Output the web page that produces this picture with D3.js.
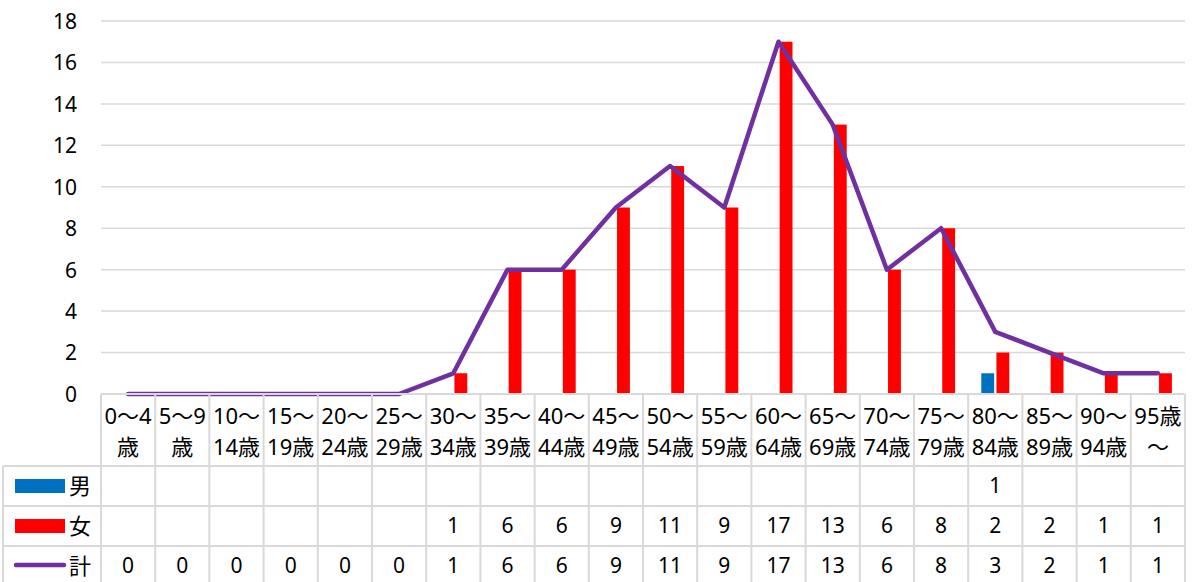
<!DOCTYPE html>
<html>
<head>
<meta charset="utf-8">
<script src="https://cdn.jsdelivr.net/npm/d3@7"></script>
<style>
  body { margin: 0; background: #fff; }
  svg text { font-family: "Noto Sans", "Noto Sans CJK JP", sans-serif; fill: #000; }
</style>
</head>
<body>
<svg id="chart"></svg>
<script>
const WIDTH = 1195;
const HEIGHT = 582;

// data
const categories = ["0〜4歳", "5〜9歳", "10〜14歳", "15〜19歳", "20〜24歳", "25〜29歳", "30〜34歳",
    "35〜39歳", "40〜44歳", "45〜49歳", "50〜54歳", "55〜59歳", "60〜64歳", "65〜69歳",
    "70〜74歳", "75〜79歳", "80〜84歳", "85〜89歳", "90〜94歳", "95歳〜"];
const labelLines = [["0〜4", "歳"], ["5〜9", "歳"], ["10〜", "14歳"], ["15〜", "19歳"], ["20〜", "24歳"],
    ["25〜", "29歳"], ["30〜", "34歳"], ["35〜", "39歳"], ["40〜", "44歳"], ["45〜", "49歳"],
    ["50〜", "54歳"], ["55〜", "59歳"], ["60〜", "64歳"], ["65〜", "69歳"], ["70〜", "74歳"],
    ["75〜", "79歳"], ["80〜", "84歳"], ["85〜", "89歳"], ["90〜", "94歳"], ["95歳", "〜"]];
const male = [null, null, null, null, null, null, null, null, null, null,
    null, null, null, null, null, null, 1, null, null, null];
const female = [null, null, null, null, null, null, 1, 6, 6, 9, 11, 9, 17, 13, 6, 8, 2, 2, 1, 1];
const total = [0, 0, 0, 0, 0, 0, 1, 6, 6, 9, 11, 9, 17, 13, 6, 8, 3, 2, 1, 1];
const yTicks = [0, 2, 4, 6, 8, 10, 12, 14, 16, 18];

const series = [
    {name: "男", values: male, color: "#0070C0", type: "bar"},
    {name: "女", values: female, color: "#FF0000", type: "bar"},
    {name: "計", values: total, color: "#7030A0", type: "line"}
];

const LEFT = 101, RIGHT = 1185, TOP = 21, BOTTOM = 394;
const HEADER_BOTTOM = 466;
const ROW_H = 40;
const GRID = "#D9D9D9";
const FONT = 21;

function main(){
    var svg = d3.select("#chart")
        .attr("width", WIDTH)
        .attr("height", HEIGHT);

    var x = d3.scaleBand().domain(categories).range([LEFT, RIGHT]);
    var y = d3.scaleLinear().domain([0, 18]).range([BOTTOM, TOP]);
    var sub = d3.scaleBand().domain(["男", "女"]).range([-14, 14]).paddingInner(0.15);

    // gridlines
    svg.append("g").selectAll("line")
        .data(yTicks.filter(d => d > 0))
        .enter().append("line")
        .attr("x1", LEFT).attr("x2", RIGHT)
        .attr("y1", d => y(d)).attr("y2", d => y(d))
        .attr("stroke", GRID).attr("stroke-width", 1.5);

    // y axis labels
    var yAxis = d3.axisLeft(y).tickValues(yTicks).tickSize(0).tickPadding(0);
    svg.append("g")
        .attr("transform", "translate(77,0)")
        .call(yAxis)
        .call(g => g.select(".domain").remove())
        .call(g => g.selectAll("text").attr("font-size", FONT).attr("dy", "0.35em")
            .style("font-family", "'Noto Sans', sans-serif"));

    // bars
    series.filter(s => s.type == "bar").forEach(s => {
        svg.append("g").selectAll("rect")
            .data(s.values.map((v, i) => ({cat: categories[i], v: v})).filter(d => d.v != null))
            .enter().append("rect")
            .attr("x", d => x(d.cat) + x.bandwidth() / 2 + sub(s.name))
            .attr("width", sub.bandwidth())
            .attr("y", d => y(d.v))
            .attr("height", d => y(0) - y(d.v))
            .attr("fill", s.color);
    });

    // total line
    var line = d3.line()
        .x((d, i) => x(categories[i]) + x.bandwidth() / 2)
        .y(d => y(d));
    svg.append("path")
        .datum(total)
        .attr("d", line)
        .attr("fill", "none")
        .attr("stroke", "#7030A0")
        .attr("stroke-width", 4.5)
        .attr("stroke-linejoin", "round")
        .attr("stroke-linecap", "round");

    // data table
    var table = svg.append("g");
    var tableBottom = HEADER_BOTTOM + ROW_H * 3;
    table.append("line")
        .attr("x1", LEFT).attr("x2", RIGHT).attr("y1", BOTTOM).attr("y2", BOTTOM)
        .attr("stroke", GRID).attr("stroke-width", 2);
    [0, 1, 2].forEach(r => {
        table.append("line")
            .attr("x1", 3).attr("x2", RIGHT)
            .attr("y1", HEADER_BOTTOM + r * ROW_H).attr("y2", HEADER_BOTTOM + r * ROW_H)
            .attr("stroke", GRID).attr("stroke-width", 2);
    });
    table.append("line")
        .attr("x1", 3).attr("x2", 3).attr("y1", HEADER_BOTTOM).attr("y2", tableBottom)
        .attr("stroke", GRID).attr("stroke-width", 2);
    table.selectAll(".vline")
        .data(categories.concat([null]))
        .enter().append("line")
        .attr("class", "vline")
        .attr("x1", d => d == null ? RIGHT : x(d))
        .attr("x2", d => d == null ? RIGHT : x(d))
        .attr("y1", BOTTOM).attr("y2", tableBottom)
        .attr("stroke", GRID).attr("stroke-width", 2);

    // header labels
    table.selectAll(".head")
        .data(labelLines)
        .enter().append("text")
        .attr("class", "head")
        .attr("text-anchor", "middle")
        .attr("font-size", 22)
        .each(function(d, i){
            var cx = x(categories[i]) + x.bandwidth() / 2;
            d3.select(this).selectAll("tspan")
                .data(d).enter().append("tspan")
                .attr("x", cx)
                .attr("y", (t, j) => 416 + j * 31)
                .attr("dy", "0.35em")
                .text(t => t);
        });

    // rows
    series.forEach((s, r) => {
        var cy = HEADER_BOTTOM + r * ROW_H + ROW_H / 2;
        if (s.type == "bar") {
            table.append("rect")
                .attr("x", 15).attr("y", cy - 7).attr("width", 50).attr("height", 14)
                .attr("fill", s.color);
        } else {
            table.append("line")
                .attr("x1", 16).attr("x2", 64).attr("y1", cy - 1).attr("y2", cy - 1)
                .attr("stroke", s.color).attr("stroke-width", 4.5).attr("stroke-linecap", "round");
        }
        table.append("text")
            .attr("x", 69).attr("y", cy).attr("dy", "0.35em")
            .attr("font-size", 22)
            .text(s.name);
        table.selectAll(".val" + r)
            .data(s.values)
            .enter().append("text")
            .attr("class", "val" + r)
            .attr("x", (d, i) => x(categories[i]) + x.bandwidth() / 2)
            .attr("y", cy).attr("dy", "0.35em")
            .attr("text-anchor", "middle")
            .attr("font-size", FONT)
            .text(d => d == null ? "" : d);
    });
}

window.addEventListener("load", main);
</script>
</body>
</html>
